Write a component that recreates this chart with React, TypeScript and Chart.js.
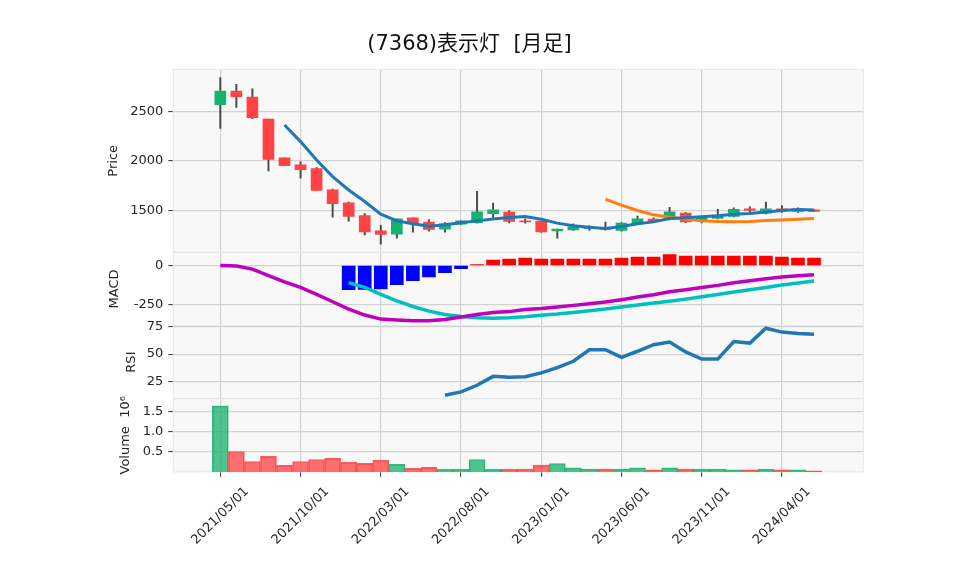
import React, { useEffect, useRef } from "react";
import { Chart, registerables } from "chart.js";

Chart.register(...registerables);

const TITLE = "(7368)表示灯  [月足]";

const months = [
  "2021/05/01", "2021/06/01", "2021/07/01", "2021/08/01", "2021/09/01", "2021/10/01",
  "2021/11/01", "2021/12/01", "2022/01/01", "2022/02/01", "2022/03/01", "2022/04/01",
  "2022/05/01", "2022/06/01", "2022/07/01", "2022/08/01", "2022/09/01", "2022/10/01",
  "2022/11/01", "2022/12/01", "2023/01/01", "2023/02/01", "2023/03/01", "2023/04/01",
  "2023/05/01", "2023/06/01", "2023/07/01", "2023/08/01", "2023/09/01", "2023/10/01",
  "2023/11/01", "2023/12/01", "2024/01/01", "2024/02/01", "2024/03/01", "2024/04/01",
  "2024/05/01", "2024/06/01",
];
const xTickIdx = [0, 5, 10, 15, 20, 25, 30, 35];

const open = [2567, 2705, 2645, 2423, 2029, 1958, 1921, 1705, 1574, 1446, 1291, 1258, 1423, 1379, 1308, 1358, 1375, 1466, 1480, 1392, 1389, 1291, 1301, 1312, 1318, 1295, 1362, 1409, 1409, 1470, 1395, 1416, 1436, 1513, 1470, 1513, 1487, 1503];
const high = [2843, 2773, 2729, 2423, 2030, 1992, 1931, 1715, 1581, 1466, 1348, 1412, 1423, 1406, 1375, 1395, 1692, 1571, 1497, 1412, 1389, 1308, 1362, 1342, 1379, 1375, 1440, 1423, 1530, 1477, 1440, 1510, 1524, 1534, 1581, 1547, 1524, 1505];
const low = [2328, 2540, 2426, 1897, 1950, 1823, 1699, 1429, 1389, 1251, 1157, 1217, 1278, 1288, 1278, 1355, 1369, 1426, 1372, 1369, 1275, 1217, 1295, 1295, 1298, 1288, 1359, 1375, 1402, 1375, 1372, 1413, 1433, 1480, 1463, 1477, 1477, 1485];
const close = [2705, 2648, 2436, 2015, 1951, 1911, 1699, 1567, 1436, 1281, 1254, 1412, 1375, 1305, 1362, 1392, 1483, 1503, 1386, 1382, 1281, 1308, 1332, 1318, 1305, 1369, 1412, 1392, 1483, 1382, 1420, 1450, 1510, 1497, 1513, 1497, 1513, 1487];

const ma5 = [null, null, null, null, 2362, 2194, 2008, 1840, 1705, 1588, 1460, 1392, 1362, 1338, 1352, 1372, 1392, 1412, 1426, 1436, 1409, 1369, 1342, 1328, 1315, 1335, 1362, 1382, 1416, 1423, 1433, 1443, 1460, 1466, 1483, 1497, 1507, 1503];
const ma25 = [null, null, null, null, null, null, null, null, null, null, null, null, null, null, null, null, null, null, null, null, null, null, null, null, 1611, 1551, 1497, 1453, 1429, 1409, 1392, 1386, 1382, 1386, 1396, 1402, 1409, 1416];

const macd = [0, -4, -24, -66, -105, -141, -186, -233, -280, -318, -344, -350, -355, -355, -346, -331, -314, -301, -296, -282, -276, -267, -256, -246, -235, -220, -203, -188, -169, -156, -141, -128, -111, -98, -85, -75, -66, -60];
const signal = [null, null, null, null, null, null, null, null, -111, -141, -186, -227, -263, -293, -314, -327, -335, -338, -335, -329, -320, -312, -301, -291, -280, -267, -254, -241, -229, -216, -201, -186, -171, -156, -141, -126, -113, -100];
const hist = [null, null, null, null, null, null, null, null, -156, -154, -150, -124, -98, -73, -47, -21, 6, 34, 41, 47, 40, 40, 40, 40, 40, 47, 53, 53, 70, 60, 60, 60, 60, 60, 60, 53, 47, 47];

const rsi = [null, null, null, null, null, null, null, null, null, null, null, null, null, null, 12.7, 15.7, 21.7, 29.8, 28.9, 29.5, 33, 37.7, 43.5, 54, 54, 47, 52.6, 58.6, 61, 52, 45.5, 45.5, 61.5, 60, 73.5, 70, 68.8, 68];

const volume = [1650000, 510000, 260000, 390000, 165000, 260000, 310000, 340000, 240000, 215000, 290000, 190000, 90000, 115000, 66000, 66000, 310000, 66000, 66000, 70000, 170000, 210000, 100000, 70000, 70000, 70000, 100000, 50000, 100000, 70000, 70000, 70000, 50000, 50000, 70000, 50000, 50000, 25000];

const priceTicks = [1500, 2000, 2500];
const macdTicks = [-250, 0];
const rsiTicks = [25, 50, 75];
const volTicks = [500000, 1000000, 1500000];

const FONT = "'DejaVu Sans', 'Noto Sans CJK JP', sans-serif";
const TEXT = "#262626";
const GRID = "#d2d2d2";
const GREEN = "#16b26e";
const RED = "#ff4242";
const VGREEN = "rgba(22,178,110,0.75)";
const VRED = "rgba(255,66,66,0.75)";

const LEFT = 173.3;
const RIGHT_PAD = 94.7;
const TOP = 69.3;
const XAXIS_H = 103.1;

function yAxis(weight: number, stackWeight: number, min: number, max: number, ticks: number[], title: string, titlePad: number, fmt: (v: number) => string) {
  return {
    type: "linear",
    position: "left",
    stack: "panels",
    stackWeight,
    weight,
    min,
    max,
    afterBuildTicks: (s: any) => {
      s.ticks = ticks.map((v) => ({ value: v }));
    },
    afterFit: (s: any) => {
      s.width = LEFT;
    },
    ticks: {
      autoSkip: false,
      padding: 5,
      color: TEXT,
      font: { family: FONT, size: 13 },
      callback: (v: any) => fmt(Number(v)),
    },
    grid: { color: GRID, lineWidth: 1.2, tickColor: "#333", tickLength: 5, tickWidth: 1 },
    border: { display: false },
    title: {
      display: true,
      text: title,
      color: TEXT,
      font: { family: FONT, size: 13 },
      padding: { top: titlePad, bottom: 0 },
    },
  };
}

const framePlugin = {
  id: "frame",
  beforeDraw(chart: any) {
    const { ctx, chartArea: a } = chart;
    ctx.save();
    ctx.fillStyle = "#ffffff";
    ctx.fillRect(0, 0, chart.width, chart.height);
    ctx.fillStyle = "#f8f8f8";
    ctx.fillRect(a.left, a.top, a.right - a.left, a.bottom - a.top);
    ctx.restore();
  },
  beforeDatasetsDraw(chart: any) {
    const { ctx, chartArea: a } = chart;
    ctx.save();
    ctx.strokeStyle = "#e6e6e6";
    ctx.lineWidth = 1;
    for (const id of ["yP", "yM", "yR", "yV"]) {
      const s = chart.scales[id];
      ctx.strokeRect(a.left, s.top, a.right - a.left, s.bottom - s.top);
    }
    ctx.restore();
  },
  afterDraw(chart: any) {
    const { ctx } = chart;
    ctx.save();
    ctx.fillStyle = "#111";
    ctx.font = `21px ${FONT}`;
    ctx.textAlign = "center";
    ctx.textBaseline = "middle";
    ctx.fillText(TITLE, 469.5, 45);
    ctx.restore();
  },
};

export default function App() {
  const ref = useRef<HTMLCanvasElement>(null);

  useEffect(() => {
    document.body.style.margin = "0";
    const idx = months.map((_, i) => i);
    const up = close.map((c, i) => c >= open[i]);
    const pts = (arr: (number | null)[]) => idx.map((i) => ({ x: i, y: arr[i] }));

    const datasets: any[] = [
      { type: "line", label: "MA5", data: pts(ma5), yAxisID: "yP", borderColor: "#1f77b4", borderWidth: 3, pointRadius: 0, tension: 0, order: 0 },
      { type: "line", label: "MA25", data: pts(ma25), yAxisID: "yP", borderColor: "#ff7f0e", borderWidth: 3, pointRadius: 0, tension: 0, order: 0 },
      {
        type: "bar", label: "body", yAxisID: "yP", order: 2, grouped: false, barThickness: 11,
        data: idx.map((i) => ({ x: i, y: [open[i], close[i]] })),
        backgroundColor: up.map((u) => (u ? GREEN : RED)),
      },
      {
        type: "bar", label: "wick", yAxisID: "yP", order: 3, grouped: false, barThickness: 1.3,
        data: idx.map((i) => ({ x: i, y: [low[i], high[i]] })),
        backgroundColor: "#4a4a4a",
      },
      { type: "line", label: "MACD", data: pts(macd), yAxisID: "yM", borderColor: "#bf00bf", borderWidth: 3.5, pointRadius: 0, tension: 0, order: 0 },
      { type: "line", label: "Signal", data: pts(signal), yAxisID: "yM", borderColor: "#00bfbf", borderWidth: 3.5, pointRadius: 0, tension: 0, order: 0 },
      {
        type: "bar", label: "hist", yAxisID: "yM", order: 4, grouped: false, barThickness: 13,
        data: pts(hist),
        backgroundColor: hist.map((v) => (v !== null && v < 0 ? "#0000ff" : "#ff0000")),
      },
      { type: "line", label: "RSI", data: pts(rsi), yAxisID: "yR", borderColor: "#1f77b4", borderWidth: 3.5, pointRadius: 0, tension: 0, order: 0 },
      {
        type: "bar", label: "Volume", yAxisID: "yV", order: 4, grouped: false, barThickness: 16,
        data: pts(volume),
        backgroundColor: up.map((u) => (u ? VGREEN : VRED)),
        borderColor: up.map((u) => (u ? "rgba(22,178,110,0.85)" : "rgba(255,66,66,0.85)")),
        borderWidth: 1,
      },
    ];

    const chart = new Chart(ref.current as HTMLCanvasElement, {
      type: "bar",
      data: { datasets },
      options: {
        responsive: false,
        animation: false,
        devicePixelRatio: 1,
        layout: { padding: { left: 0, right: RIGHT_PAD, top: TOP, bottom: 0 } },
        plugins: { legend: { display: false }, tooltip: { enabled: false }, title: { display: false } },
        scales: {
          x: {
            type: "linear",
            offset: false,
            min: -2.93,
            max: 40.07,
            afterBuildTicks: (s: any) => {
              s.ticks = xTickIdx.map((v) => ({ value: v }));
            },
            afterFit: (s: any) => {
              s.height = XAXIS_H;
            },
            ticks: {
              autoSkip: false,
              minRotation: 45,
              maxRotation: 45,
              labelOffset: 26.5,
              padding: 7,
              color: TEXT,
              font: { family: FONT, size: 13 },
              callback: (v: any) => months[Number(v)] ?? "",
            },
            grid: { offset: false, color: GRID, lineWidth: 1.2, tickColor: "#333", tickLength: 5, tickWidth: 1 },
            border: { display: false },
          },
          yP: yAxis(4, 5, 1074, 2926, priceTicks, "Price", 106, (v) => String(v)),
          yM: yAxis(3, 2, -385, 84, macdTicks, "MACD", 107, (v) => String(v)),
          yR: yAxis(2, 2, 9.5, 76, rsiTicks, "RSI", 124, (v) => String(v)),
          yV: yAxis(1, 2, 0, 1830000, volTicks, "Volume  10⁶", 118, (v) => (v / 1e6).toFixed(1)),
        } as any,
      },
      plugins: [framePlugin],
    } as any);

    return () => chart.destroy();
  }, []);

  return <canvas ref={ref} width={958} height={575} style={{ display: "block" }} />;
}
